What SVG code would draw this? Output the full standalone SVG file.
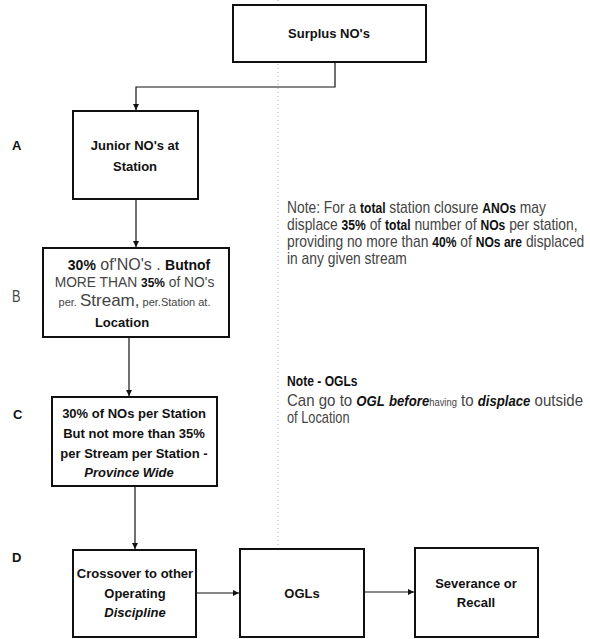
<svg xmlns="http://www.w3.org/2000/svg" width="590" height="639" viewBox="0 0 590 639">
<style>
.box{fill:#fff;stroke:#111;stroke-width:2}
.con{fill:none;stroke:#111;stroke-width:1.2}
.t{font-family:"Liberation Sans",Arial,sans-serif;font-weight:bold;font-size:13px;fill:#111;text-anchor:middle}
.lbl{font-family:"Liberation Sans",Arial,sans-serif;font-weight:bold;font-size:13px;fill:#111}
.lt{font-family:"Liberation Sans",Arial,sans-serif;font-weight:normal;fill:#444}
.bd{font-weight:bold;fill:#111}
.note{font-family:"Liberation Sans",Arial,sans-serif;font-size:16px;fill:#444}
.nb{font-weight:bold;font-size:14px;fill:#111}
</style>
<defs>
<marker id="arr" markerUnits="userSpaceOnUse" markerWidth="7" markerHeight="7" refX="6" refY="3" orient="auto">
<path d="M0,0 L6,3 L0,6 z" fill="#111"/>
</marker>
</defs>
<rect width="590" height="639" fill="#fff"/>
<line x1="278" y1="0" x2="278" y2="639" stroke="#aaa" stroke-width="1" stroke-dasharray="1 3"/>

<g id="connectors">
<path class="con" d="M335,62 V87 H136 V110" marker-end="url(#arr)"/>
<path class="con" d="M136,199 V247" marker-end="url(#arr)"/>
<path class="con" d="M129,337 V396" marker-end="url(#arr)"/>
<path class="con" d="M135,486 V549" marker-end="url(#arr)"/>
<path class="con" d="M196,593 H239" marker-end="url(#arr)"/>
<path class="con" d="M364,592 H414" marker-end="url(#arr)"/>
</g>

<g id="surplus">
<rect class="box" x="233" y="5" width="193" height="57"/>
<text class="t" x="329" y="38">Surplus NO's</text>
</g>

<g id="nodeA">
<rect class="box" x="73" y="111" width="125" height="88"/>
<text class="t" x="135" y="150">Junior NO's at</text>
<text class="t" x="135" y="171">Station</text>
</g>

<g id="nodeB">
<rect class="box" x="43" y="248" width="186" height="89"/>
<text class="lt" x="139" y="270" font-size="16" text-anchor="middle"><tspan class="bd" font-size="14">30%</tspan> of'NO's . <tspan class="bd" font-size="14">Butnof</tspan></text>
<text class="lt" transform="translate(134.5,287) scale(0.92,1)" x="0" y="0" font-size="15" fill="#555" text-anchor="middle">MORE THAN <tspan class="bd" font-size="13">35%</tspan> of NO's</text>
<text class="lt" x="134.5" y="306" font-size="11" fill="#111" text-anchor="middle">per. <tspan font-size="17" fill="#444">Stream,</tspan> per.Station at.</text>
<text class="t" x="122" y="327">Location</text>
</g>

<g id="nodeC">
<rect class="box" x="52" y="397" width="165" height="89"/>
<text class="t" x="134" y="418">30% of NOs per Station</text>
<text class="t" x="134" y="438">But not more than 35%</text>
<text class="t" x="134" y="458">per Stream per Station -</text>
<text class="t" x="129" y="477" font-style="italic">Province Wide</text>
</g>

<g id="nodeD">
<rect class="box" x="73" y="550" width="123" height="87"/>
<text class="t" x="135" y="578">Crossover to other</text>
<text class="t" x="135" y="598">Operating</text>
<text class="t" x="135" y="617" font-style="italic">Discipline</text>
</g>

<g id="ogl">
<rect class="box" x="240" y="549" width="124" height="88"/>
<text class="t" x="302" y="598">OGLs</text>
</g>

<g id="severance">
<rect class="box" x="415" y="548" width="123" height="89"/>
<text class="t" x="476" y="588">Severance or</text>
<text class="t" x="476" y="607">Recall</text>
</g>

<g id="labels">
<text class="lbl" x="12" y="150">A</text>
<text class="lt" transform="translate(12,302) scale(0.8,1)" x="0" y="0" font-size="16" fill="#555">B</text>
<text class="lbl" x="13" y="419">C</text>
<text class="lbl" x="12" y="562">D</text>
</g>

<g id="note1" transform="translate(287,0) scale(0.865,1)">
<text class="note" x="0" y="213">Note: For a <tspan class="nb">total</tspan> station closure <tspan class="nb">ANOs</tspan> may</text>
<text class="note" x="0" y="230">displace <tspan class="nb">35%</tspan> of <tspan class="nb">total</tspan> number of <tspan class="nb">NOs</tspan> per station,</text>
<text class="note" x="0" y="247">providing no more than <tspan class="nb">40%</tspan> of <tspan class="nb">NOs are</tspan> displaced</text>
<text class="note" x="0" y="264">in any given stream</text>
</g>

<g id="note2">
<text class="note" transform="translate(287,386) scale(0.865,1)" x="0" y="0"><tspan class="nb">Note - OGLs</tspan></text>
<text class="note" transform="translate(287,406) scale(0.94,1)" x="0" y="0" font-size="18">Can go to <tspan class="nb" font-style="italic" font-size="16">OGL</tspan> <tspan class="nb" font-style="italic">before</tspan><tspan font-size="10">having</tspan> to <tspan class="nb" font-style="italic" font-size="15">displace</tspan> outside</text>
<text class="note" transform="translate(287,423) scale(0.8,1)" x="0" y="0" font-size="18">of Location</text>
</g>
</svg>
